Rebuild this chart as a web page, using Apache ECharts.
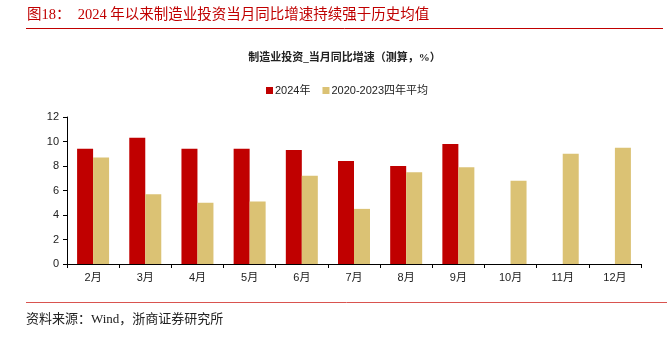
<!DOCTYPE html>
<html>
<head>
<meta charset="utf-8">
<script src="https://cdn.jsdelivr.net/npm/echarts@6/dist/echarts.min.js"></script>
<style>
  html, body { margin: 0; padding: 0; background: #fff; }
  #chart { width: 669px; height: 339px; }
</style>
</head>
<body>
<div id="chart"></div>
<script>
// Monthly categories
const months = ['2月', '3月', '4月', '5月', '6月', '7月', '8月', '9月', '10月', '11月', '12月'];
// Manufacturing investment, single-month YoY growth (estimated, %)
const series2024 = [9.4, 10.3, 9.4, 9.4, 9.3, 8.4, 8.0, 9.8, null, null, null];
const seriesAvg = [8.7, 5.7, 5.0, 5.1, 7.2, 4.5, 7.5, 7.9, 6.8, 9.0, 9.5];
const seriesNames = ['2024年', '2020-2023四年平均'];
const yTicks = [0, 2, 4, 6, 8, 10, 12];

const RED = '#c00000';
const GOLD = '#dbc274';
const serifCn = '"Liberation Serif", "Noto Sans CJK SC", serif';
const sans = '"Liberation Sans", Arial, "Noto Sans CJK SC", sans-serif';

const chart = echarts.init(document.getElementById('chart'), null, { renderer: 'canvas' });

chart.setOption({
  animation: false,
  backgroundColor: '#fff',
  grid: { left: 67, right: 28, top: 117, bottom: 75, containLabel: false },
  legend: {
    left: 261,
    top: 80,
    itemWidth: 7,
    itemHeight: 7,
    itemGap: 12,
    icon: 'rect',
    textStyle: { fontFamily: sans, fontSize: 11, color: '#222', padding: [0, 0, 0, -3] },
    data: seriesNames
  },
  xAxis: {
    type: 'category',
    data: months,
    boundaryGap: true,
    axisLine: { lineStyle: { color: '#000', width: 1 } },
    axisTick: { show: true, alignWithLabel: false, length: 4, lineStyle: { color: '#000' } },
    axisLabel: { fontFamily: sans, fontSize: 11, color: '#222', margin: 8 },
    splitLine: { show: false }
  },
  yAxis: {
    type: 'value',
    min: yTicks[0],
    max: yTicks[yTicks.length - 1],
    interval: 2,
    axisLine: { show: true, lineStyle: { color: '#000', width: 1 } },
    axisTick: { show: true, length: 4, lineStyle: { color: '#000' } },
    axisLabel: { fontFamily: sans, fontSize: 11, color: '#222', margin: 8 },
    splitLine: { show: false }
  },
  series: [
    {
      name: seriesNames[0],
      type: 'bar',
      data: series2024,
      barWidth: 16,
      barGap: '0%',
      itemStyle: { color: RED }
    },
    {
      name: seriesNames[1],
      type: 'bar',
      data: seriesAvg,
      barWidth: 16,
      barGap: '0%',
      itemStyle: { color: GOLD }
    }
  ],
  graphic: [
    {
      type: 'text',
      x: 27,
      y: 15,
      style: {
        text: '图18：  2024 年以来制造业投资当月同比增速持续强于历史均值',
        fill: RED,
        font: '14.5px ' + serifCn,
        textVerticalAlign: 'middle'
      }
    },
    {
      type: 'line',
      shape: { x1: 26, y1: 28.5, x2: 663, y2: 28.5 },
      style: { stroke: RED, lineWidth: 1 }
    },
    {
      type: 'text',
      x: 344.5,
      y: 58,
      style: {
        text: '制造业投资_当月同比增速（测算，%）',
        fill: '#222',
        font: 'bold 11px ' + serifCn,
        textAlign: 'center',
        textVerticalAlign: 'middle'
      }
    },
    {
      type: 'line',
      shape: { x1: 26, y1: 302.5, x2: 667, y2: 302.5 },
      style: { stroke: '#d9534f', lineWidth: 1 }
    },
    {
      type: 'text',
      x: 26,
      y: 320,
      style: {
        text: '资料来源：Wind，浙商证券研究所',
        fill: '#222',
        font: '13px ' + serifCn,
        textVerticalAlign: 'middle'
      }
    }
  ]
});
</script>
</body>
</html>
